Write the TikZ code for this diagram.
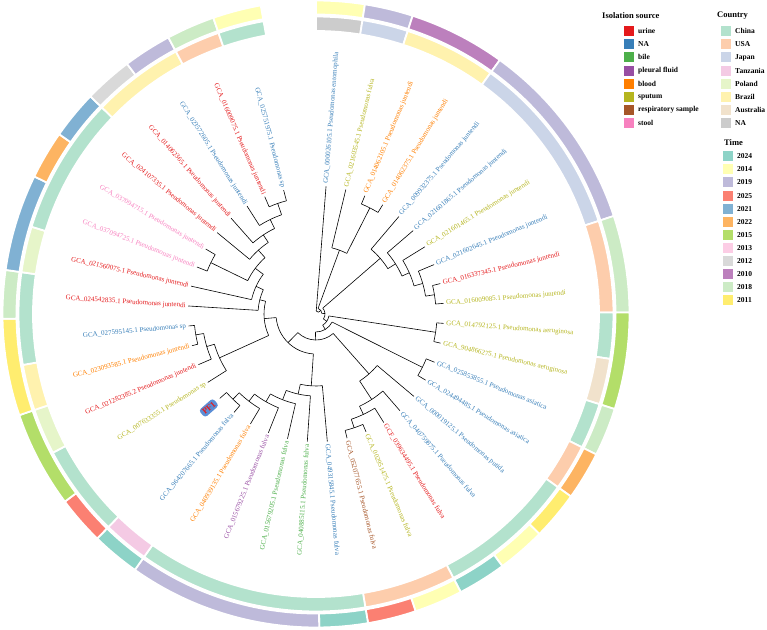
\documentclass[tikz,border=0pt]{standalone}
\usepackage{fontspec}
\setmainfont{Liberation Serif}
\usetikzlibrary{calc}
\definecolor{cUrine}{HTML}{E41A1C}
\definecolor{cNAsrc}{HTML}{377EB8}
\definecolor{cBile}{HTML}{4DAF4A}
\definecolor{cPleural}{HTML}{984EA3}
\definecolor{cBlood}{HTML}{FF7F00}
\definecolor{cSputum}{HTML}{B5B51F}
\definecolor{cResp}{HTML}{A65628}
\definecolor{cStool}{HTML}{F781BF}
\definecolor{kChina}{HTML}{B3E2CD}
\definecolor{kUSA}{HTML}{FDCDAC}
\definecolor{kJapan}{HTML}{CBD5E8}
\definecolor{kTanzania}{HTML}{F4CAE4}
\definecolor{kPoland}{HTML}{E6F5C9}
\definecolor{kBrazil}{HTML}{FFF2AE}
\definecolor{kAustralia}{HTML}{F1E2CC}
\definecolor{kNA}{HTML}{CCCCCC}
\definecolor{t2024}{HTML}{8DD3C7}
\definecolor{t2014}{HTML}{FFFFB3}
\definecolor{t2019}{HTML}{BEBADA}
\definecolor{t2025}{HTML}{FB8072}
\definecolor{t2021}{HTML}{80B1D3}
\definecolor{t2022}{HTML}{FDB462}
\definecolor{t2015}{HTML}{B3DE69}
\definecolor{t2013}{HTML}{FCCDE5}
\definecolor{t2012}{HTML}{D9D9D9}
\definecolor{t2010}{HTML}{BC80BD}
\definecolor{t2018}{HTML}{CCEBC5}
\definecolor{t2011}{HTML}{FFED6F}
\definecolor{pfbox}{HTML}{5B8ED6}
\tikzset{
  lab/.style={font=\fontsize{7}{8}\selectfont, inner sep=0pt},
  branch/.style={line width=0.6pt, black},
  legtitle/.style={font=\bfseries\fontsize{8.5}{9}\selectfont, anchor=west, inner sep=0pt},
  legtext/.style={font=\bfseries\fontsize{7.5}{8}\selectfont, anchor=west, inner sep=0pt},
  legsq/.style={minimum width=10pt, minimum height=10pt, inner sep=0pt},
  pfnode/.style={fill=pfbox, rounded corners=3pt, text=cUrine, font=\bfseries\fontsize{8.5}{9}\selectfont, inner sep=2pt}
}
\newcommand\mktip[4]{%
  \pgfmathsetmacro\ta{85.5-(#1-1)*8.97}%
  \expandafter\xdef\csname ang@#2\endcsname{\ta}%
  \coordinate (#2) at (\ta:128pt);%
  \pgfmathtruncatemacro\side{cos(\ta)>=0}%
  \ifnum\side=1
    \node[lab,text=#4,rotate=\ta,anchor=west] (#2-l) at (\ta:130.5pt) {#3};%
  \else
    \pgfmathsetmacro\tb{\ta+180}%
    \node[lab,text=#4,rotate=\tb,anchor=east] (#2-l) at (\ta:130.5pt) {#3};%
  \fi
}
\newcommand\mknode[4]{%
  \edef\aA{\csname ang@#3\endcsname}%
  \edef\aB{\csname ang@#4\endcsname}%
  \pgfmathsetmacro\am{(\aA+\aB)/2}%
  \expandafter\xdef\csname ang@#1\endcsname{\am}%
  \coordinate (#1) at (\am:#2pt);%
  \coordinate (#1-a) at (\aA:#2pt);%
  \coordinate (#1-b) at (\aB:#2pt);%
  \draw[branch] (#1-a) arc[start angle=\aA, end angle=\aB, radius=#2pt];%
  \draw[branch] (#1-a) -- (#3);%
  \draw[branch] (#1-b) -- (#4);%
}
\newcommand\ringseg[5]{%
  \pgfmathsetmacro\sa{85.5-(#3-1)*8.97+4.485}%
  \pgfmathsetmacro\sb{85.5-(#4-1)*8.97-4.485}%
  \path[fill=#5, draw=white, line width=1.8pt] (\sa:#1pt) arc[start angle=\sa, end angle=\sb, radius=#1pt] -- (\sb:#2pt) arc[start angle=\sb, end angle=\sa, radius=#2pt] -- cycle;%
}
\newcommand\outseg[3]{\ringseg{299.5}{313.5}{#1}{#2}{#3}}
\newcommand\inseg[3]{\ringseg{283}{297.5}{#1}{#2}{#3}}
\newcommand\legrow[5]{% x square, x text, y, color, text
  \node[legsq, fill=#4] (#4-sq) at ({#1-316},{314-#3}) {};
  \node[legtext] (#4-tx) at ({#2-316},{314-#3}) {#5};
}
\begin{document}
\begin{tikzpicture}[x=1pt,y=1pt]
\useasboundingbox (-316,-315) rectangle (451,314);
% ---------- rings ----------
\outseg{1}{1}{t2014}
\outseg{2}{2}{t2019}
\outseg{3}{4}{t2010}
\outseg{5}{8}{t2019}
\outseg{9}{10}{t2018}
\outseg{11}{12}{t2015}
\outseg{13}{13}{t2018}
\outseg{14}{14}{t2022}
\outseg{15}{15}{t2011}
\outseg{16}{16}{t2014}
\outseg{17}{17}{t2024}
\outseg{18}{18}{t2014}
\outseg{19}{19}{t2025}
\outseg{20}{20}{t2024}
\outseg{21}{24}{t2019}
\outseg{25}{25}{t2024}
\outseg{26}{26}{t2025}
\outseg{27}{28}{t2015}
\outseg{29}{30}{t2011}
\outseg{31}{31}{t2018}
\outseg{32}{33}{t2021}
\outseg{34}{34}{t2022}
\outseg{35}{35}{t2021}
\outseg{36}{36}{t2012}
\outseg{37}{37}{t2019}
\outseg{38}{38}{t2018}
\outseg{39}{39}{t2014}
\inseg{1}{1}{kNA}
\inseg{2}{2}{kJapan}
\inseg{3}{4}{kBrazil}
\inseg{5}{8}{kJapan}
\inseg{9}{10}{kUSA}
\inseg{11}{11}{kChina}
\inseg{12}{12}{kAustralia}
\inseg{13}{13}{kChina}
\inseg{14}{14}{kUSA}
\inseg{15}{17}{kChina}
\inseg{18}{19}{kUSA}
\inseg{20}{24}{kChina}
\inseg{25}{25}{kTanzania}
\inseg{26}{27}{kChina}
\inseg{28}{28}{kPoland}
\inseg{29}{29}{kBrazil}
\inseg{30}{31}{kChina}
\inseg{32}{32}{kPoland}
\inseg{33}{35}{kChina}
\inseg{36}{37}{kBrazil}
\inseg{38}{38}{kUSA}
\inseg{39}{39}{kChina}
% ---------- tips ----------
\mktip{1}{t1}{GCA\_000026105.1 Pseudomonas entomophila}{cNAsrc}
\mktip{2}{t2}{GCA\_021603545.1 Pseudomonas fulva}{cSputum}
\mktip{3}{t3}{GCA\_014062105.1 Pseudomonas juntendi}{cBlood}
\mktip{4}{t4}{GCA\_014062375.1 Pseudomonas juntendi}{cBlood}
\mktip{5}{t5}{GCA\_009932375.1 Pseudomonas juntendi}{cNAsrc}
\mktip{6}{t6}{GCA\_021601865.1 Pseudomonas juntendi}{cNAsrc}
\mktip{7}{t7}{GCA\_021601465.1 Pseudomonas juntendi}{cSputum}
\mktip{8}{t8}{GCA\_021602645.1 Pseudomonas juntendi}{cNAsrc}
\mktip{9}{t9}{GCA\_016337345.1 Pseudomonas juntendi}{cUrine}
\mktip{10}{t10}{GCA\_016009085.1 Pseudomonas juntendi}{cSputum}
\mktip{11}{t11}{GCA\_014792125.1 Pseudomonas aeruginosa}{cSputum}
\mktip{12}{t12}{GCA\_904866275.1 Pseudomonas aeruginosa}{cSputum}
\mktip{13}{t13}{GCA\_025853855.1 Pseudomonas asiatica}{cNAsrc}
\mktip{14}{t14}{GCA\_024494485.1 Pseudomonas asiatica}{cNAsrc}
\mktip{15}{t15}{GCA\_000019125.1 Pseudomonas putida}{cNAsrc}
\mktip{16}{t16}{GCA\_040759875.1 Pseudomonas fulva}{cNAsrc}
\mktip{17}{t17}{GCF\_039634495.1 Pseudomonas fulva}{cUrine}
\mktip{18}{t18}{GCA\_002951475.1 Pseudomonas fulva}{cSputum}
\mktip{19}{t19}{GCA\_052077655.1 Pseudomonas fulva}{cResp}
\mktip{20}{t20}{GCA\_049315845.1 Pseudomonas fulva}{cNAsrc}
\mktip{21}{t21}{GCA\_040885115.1 Pseudomonas fulva}{cBile}
\mktip{22}{t22}{GCA\_015679205.1 Pseudomonas fulva}{cBile}
\mktip{23}{t23}{GCA\_015679225.1 Pseudomonas fulva}{cPleural}
\mktip{24}{t24}{GCA\_040939135.1 Pseudomonas fulva}{cBlood}
\mktip{25}{t25}{GCA\_964207665.1 Pseudomonas fulva}{cNAsrc}
\pgfmathsetmacro\ta{85.5-25*8.97}
\expandafter\xdef\csname ang@t26\endcsname{\ta}
\coordinate (t26) at (\ta:128pt);
\pgfmathsetmacro\tb{\ta+180}
\node[pfnode, rotate=\tb, anchor=east] (pf1) at (\ta:133pt) {PF1};
\mktip{27}{t27}{GCA\_007633355.1 Pseudomonas sp}{cSputum}
\mktip{28}{t28}{GCA\_021282385.2 Pseudomonas juntendi}{cUrine}
\mktip{29}{t29}{GCA\_023093585.1 Pseudomonas juntendi}{cBlood}
\mktip{30}{t30}{GCA\_027595145.1 Pseudomonas sp}{cNAsrc}
\mktip{31}{t31}{GCA\_024542835.1 Pseudomonas juntendi}{cUrine}
\mktip{32}{t32}{GCA\_021560075.1 Pseudomonas juntendi}{cUrine}
\mktip{33}{t33}{GCA\_037094725.1 Pseudomonas juntendi}{cStool}
\mktip{34}{t34}{GCA\_037094715.1 Pseudomonas juntendi}{cStool}
\mktip{35}{t35}{GCA\_024107335.1 Pseudomonas juntendi}{cUrine}
\mktip{36}{t36}{GCA\_014062365.1 Pseudomonas juntendi}{cUrine}
\mktip{37}{t37}{GCA\_023572605.1 Pseudomonas juntendi}{cNAsrc}
\mktip{38}{t38}{GCA\_016009075.1 Pseudomonas juntendi}{cUrine}
\mktip{39}{t39}{GCA\_025751975.1 Pseudomonas sp}{cNAsrc}
% ---------- tree ----------
\mknode{A}{119}{t3}{t4}
\mknode{T}{68}{t2}{A}
\mknode{U5}{120}{t9}{t10}
\mknode{U4}{111}{t8}{U5}
\mknode{U3}{102}{t7}{U4}
\mknode{U2}{94}{t6}{U3}
\mknode{U}{85}{t5}{U2}
\mknode{AER}{121}{t11}{t12}
\mknode{ASI}{119}{t13}{t14}
\mknode{G3}{120}{t18}{t19}
\mknode{G2}{111}{t17}{G3}
\mknode{G}{102}{t16}{G2}
\mknode{N5}{80}{t15}{G}
\mknode{F6}{119}{t25}{t26}
\mknode{F5}{110}{t24}{F6}
\mknode{F4}{101}{t23}{F5}
\mknode{F3}{92}{t22}{F4}
\mknode{F2}{82}{t21}{F3}
\mknode{F}{72}{t20}{F2}
\mknode{P3}{122}{t29}{t30}
\mknode{P2}{114}{t28}{P3}
\mknode{P}{106}{t27}{P2}
\mknode{L7}{117}{t38}{t39}
\mknode{L6}{105}{t37}{L7}
\mknode{L5}{95}{t36}{L6}
\mknode{L4}{86}{t35}{L5}
\mknode{L33}{117}{t33}{t34}
\mknode{L3}{76}{L33}{L4}
\mknode{L2}{66}{t32}{L3}
\mknode{L}{58}{t31}{L2}
\mknode{Q}{52}{P}{L}
\mknode{N6}{40}{F}{Q}
\mknode{N4}{26}{N5}{N6}
\mknode{N3}{18}{ASI}{N4}
\mknode{N2}{13}{AER}{N3}
\mknode{N1b}{9}{U}{N2}
\mknode{N1}{6}{T}{N1b}
\mknode{R}{3}{t1}{N1}
% ---------- legend ----------
\node[legtitle] (lt1) at ({602-316},{314-16}) {Isolation source};
\legrow{629}{638}{31}{cUrine}{urine}
\legrow{629}{638}{44.2}{cNAsrc}{NA}
\legrow{629}{638}{57.4}{cBile}{bile}
\legrow{629}{638}{70.6}{cPleural}{pleural fluid}
\legrow{629}{638}{83.8}{cBlood}{blood}
\legrow{629}{638}{97}{cSputum}{sputum}
\legrow{629}{638}{110.2}{cResp}{respiratory sample}
\legrow{629}{638}{123.4}{cStool}{stool}
\node[legtitle] (lt2) at ({717-316},{314-16}) {Country};
\legrow{726}{735}{31}{kChina}{China}
\legrow{726}{735}{44.2}{kUSA}{USA}
\legrow{726}{735}{57.4}{kJapan}{Japan}
\legrow{726}{735}{70.6}{kTanzania}{Tanzania}
\legrow{726}{735}{83.8}{kPoland}{Poland}
\legrow{726}{735}{97}{kBrazil}{Brazil}
\legrow{726}{735}{110.2}{kAustralia}{Australia}
\legrow{726}{735}{123.4}{kNA}{NA}
\node[legtitle] (lt3) at ({724-316},{314-143}) {Time};
\legrow{728}{737}{156.3}{t2024}{2024}
\legrow{728}{737}{169.4}{t2014}{2014}
\legrow{728}{737}{182.5}{t2019}{2019}
\legrow{728}{737}{195.6}{t2025}{2025}
\legrow{728}{737}{208.7}{t2021}{2021}
\legrow{728}{737}{221.8}{t2022}{2022}
\legrow{728}{737}{234.9}{t2015}{2015}
\legrow{728}{737}{248}{t2013}{2013}
\legrow{728}{737}{261.1}{t2012}{2012}
\legrow{728}{737}{274.2}{t2010}{2010}
\legrow{728}{737}{287.3}{t2018}{2018}
\legrow{728}{737}{300.4}{t2011}{2011}
\end{tikzpicture}
\end{document}
